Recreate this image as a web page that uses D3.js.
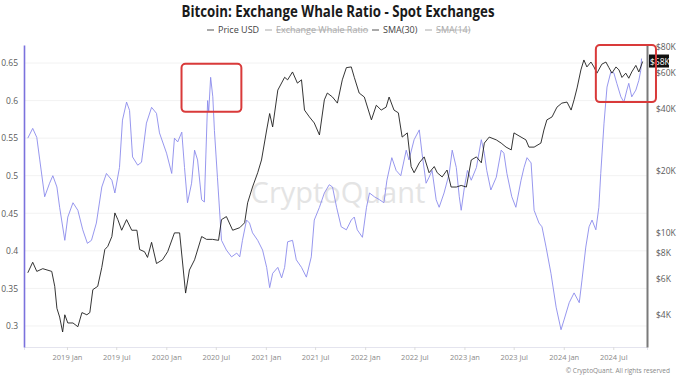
<!DOCTYPE html>
<html><head><meta charset="utf-8">
<script src="https://cdn.jsdelivr.net/npm/d3@7/dist/d3.min.js"></script>
<style>body{margin:0;background:#fff;} svg{display:block;font-family:"Open Sans","Noto Sans",sans-serif;}</style>
</head><body><svg id="c" width="680" height="382"></svg>
<script>
const title = "Bitcoin: Exchange Whale Ratio - Spot Exchanges";
const legendItems = ["Price USD", "Exchange Whale Ratio", "SMA(30)", "SMA(14)"];
const legendActive = [true, false, true, false];

const priceDates = ["2018-08-10","2018-08-28","2018-09-12","2018-10-04","2018-11-06","2018-11-17","2018-11-25","2018-12-05","2018-12-16","2018-12-24",
"2019-01-04","2019-01-23","2019-02-10","2019-02-25","2019-03-15","2019-03-26","2019-04-06","2019-04-24","2019-05-09","2019-05-20","2019-05-31","2019-06-15","2019-06-26","2019-07-07","2019-07-21","2019-08-08","2019-08-27","2019-09-15","2019-09-25","2019-10-13","2019-10-24","2019-11-08","2019-11-26","2019-12-18",
"2020-01-06","2020-01-31","2020-02-19","2020-03-12","2020-03-26","2020-04-14","2020-05-10","2020-05-28","2020-06-19","2020-07-11","2020-07-22","2020-08-09","2020-09-01","2020-09-27","2020-10-15","2020-10-26","2020-11-13","2020-12-02","2020-12-16",
"2021-01-04","2021-01-15","2021-01-26","2021-02-14","2021-03-11","2021-03-22","2021-04-09","2021-04-27","2021-05-12","2021-05-23","2021-06-10","2021-06-28","2021-07-17","2021-08-04","2021-08-15","2021-09-03","2021-09-21","2021-10-09","2021-10-24","2021-11-11","2021-11-22","2021-12-10","2021-12-29",
"2022-01-24","2022-02-11","2022-03-01","2022-03-19","2022-03-30","2022-04-17","2022-05-03","2022-05-17","2022-06-05","2022-06-19","2022-06-30","2022-07-19","2022-08-06","2022-08-24","2022-09-12","2022-09-23","2022-10-11","2022-10-29","2022-11-13","2022-12-02","2022-12-20",
"2023-01-08","2023-01-26","2023-02-14","2023-03-04","2023-03-15","2023-04-02","2023-04-28","2023-05-16","2023-06-03","2023-06-22","2023-07-02","2023-07-28","2023-08-15","2023-08-26","2023-09-14","2023-10-09","2023-10-20","2023-10-31","2023-11-19","2023-12-07","2023-12-25",
"2024-01-13","2024-01-28","2024-02-08","2024-02-19","2024-03-04","2024-03-15","2024-03-26","2024-04-10","2024-04-21","2024-05-02","2024-05-20","2024-06-04","2024-06-15","2024-06-26","2024-07-11","2024-07-22","2024-08-02","2024-08-16","2024-08-27","2024-09-07","2024-09-22","2024-10-03","2024-10-10","2024-10-17"];
const priceValues = [6400,7200,6500,6700,6500,5500,4300,3900,3300,4000,
3650,3650,3500,4100,4000,4100,5300,5500,6800,8300,8600,9600,12500,11600,10300,11600,10300,10300,8300,8100,7600,9000,7100,7400,
8100,10000,10000,5100,6600,7400,9600,9300,9300,9200,11600,12000,10300,10600,11200,14000,16700,19600,22600,
31600,38000,32700,49400,57000,55400,60500,53400,55400,39500,36600,34200,29900,44300,47800,45700,42700,55400,63500,64000,57000,47800,45700,
35400,41700,39500,40800,45700,39500,38300,29200,30600,21000,19600,21900,23400,19600,21000,19600,18700,20200,16700,16700,17000,
16700,22600,23400,21900,27300,29200,28300,27300,26100,25300,30600,29200,28300,26100,26100,27300,31600,35400,36600,40800,42700,
43200,39500,44300,50600,61900,69200,64000,67600,64000,59700,66000,67600,63500,59700,64000,61900,56900,59700,56400,60500,65100,60500,64000,68000];

const ratioDates = ["2018-08-10","2018-08-28","2018-09-12","2018-09-23","2018-10-11","2018-10-29","2018-11-10","2018-11-25","2018-12-05","2018-12-24",
"2019-01-04","2019-01-23","2019-02-10","2019-02-28","2019-03-17","2019-04-01","2019-04-19","2019-05-09","2019-05-26","2019-06-15","2019-06-26","2019-07-13","2019-07-24","2019-08-08","2019-08-19","2019-08-30","2019-09-18","2019-10-02","2019-10-20","2019-11-08","2019-11-26","2019-12-07",
"2020-01-02","2020-01-21","2020-01-31","2020-02-12","2020-02-27","2020-03-08","2020-03-19","2020-04-03","2020-04-14","2020-04-25","2020-05-10","2020-05-20","2020-06-01","2020-06-05","2020-06-12","2020-06-20","2020-06-26","2020-07-07","2020-07-22","2020-08-09","2020-08-28","2020-09-16","2020-09-27","2020-10-07","2020-10-22","2020-11-02","2020-11-13","2020-12-02","2020-12-20",
"2021-01-04","2021-01-15","2021-01-26","2021-02-14","2021-02-28","2021-03-11","2021-03-22","2021-04-09","2021-04-23","2021-05-12","2021-05-30","2021-06-17","2021-06-28","2021-07-17","2021-08-04","2021-08-22","2021-09-03","2021-09-18","2021-10-05","2021-10-24","2021-11-11","2021-11-22","2021-12-03","2021-12-22",
"2022-01-06","2022-01-17","2022-02-04","2022-02-23","2022-03-11","2022-03-22","2022-04-09","2022-04-25","2022-05-12","2022-06-01","2022-06-11","2022-06-30","2022-07-19","2022-07-29","2022-08-13","2022-08-24","2022-09-04","2022-09-19","2022-09-30","2022-10-18","2022-11-06","2022-11-17","2022-12-02","2022-12-13","2022-12-20",
"2023-01-01","2023-01-12","2023-01-26","2023-02-14","2023-03-04","2023-03-15","2023-03-24","2023-04-08","2023-04-28","2023-05-16","2023-05-26","2023-06-06","2023-06-24","2023-07-09","2023-07-28","2023-08-08","2023-08-19","2023-09-03","2023-09-14","2023-10-02","2023-10-13","2023-10-28","2023-11-15","2023-12-04","2023-12-22",
"2024-01-02","2024-01-21","2024-02-08","2024-02-27","2024-03-08","2024-03-22","2024-04-03","2024-04-14","2024-04-28","2024-05-09","2024-05-16","2024-05-28","2024-06-08","2024-06-22","2024-07-03","2024-07-14","2024-07-29","2024-08-09","2024-08-20","2024-08-27","2024-09-07","2024-09-22","2024-10-03","2024-10-10","2024-10-13"];
const ratioValues = [0.550,0.563,0.551,0.521,0.472,0.490,0.500,0.485,0.458,0.414,
0.445,0.464,0.454,0.428,0.410,0.414,0.437,0.485,0.503,0.494,0.477,0.511,0.574,0.598,0.587,0.525,0.514,0.518,0.570,0.591,0.583,0.557,
0.530,0.503,0.550,0.545,0.558,0.511,0.464,0.490,0.534,0.521,0.468,0.465,0.600,0.585,0.631,0.605,0.560,0.498,0.414,0.401,0.392,0.397,0.392,0.414,0.441,0.437,0.424,0.414,0.401,
0.378,0.351,0.370,0.378,0.364,0.378,0.412,0.414,0.388,0.378,0.365,0.392,0.441,0.458,0.477,0.488,0.485,0.458,0.432,0.428,0.441,0.445,0.428,0.418,
0.458,0.477,0.472,0.468,0.464,0.494,0.524,0.507,0.500,0.534,0.521,0.548,0.561,0.530,0.490,0.498,0.507,0.468,0.458,0.477,0.503,0.534,0.511,0.472,0.454,
0.485,0.507,0.494,0.511,0.548,0.530,0.507,0.481,0.498,0.534,0.530,0.503,0.472,0.458,0.494,0.511,0.524,0.517,0.454,0.437,0.432,0.405,0.370,0.325,0.295,
0.308,0.331,0.344,0.331,0.361,0.405,0.432,0.441,0.428,0.458,0.503,0.570,0.618,0.638,0.637,0.623,0.605,0.598,0.614,0.623,0.605,0.614,0.627,0.640,0.656];

const leftTicks = [0.3,0.35,0.4,0.45,0.5,0.55,0.6,0.65];
const rightTicks = [4000,6000,8000,10000,20000,40000,60000,80000];
const timeTicks = ["2019-01-01","2019-07-01","2020-01-01","2020-07-01","2021-01-01","2021-07-01","2022-01-01","2022-07-01","2023-01-01","2023-07-01","2024-01-01","2024-07-01"];
// highlight boxes: [startDate, endDate, topRatio, bottomRatio]
const highlightStart = ["2020-02-26","2024-04-28"];
const highlightEnd = ["2020-10-03","2024-12-05"];
const highlightTop = [0.649,0.674];
const highlightBottom = [0.585,0.598];

const parse = d3.timeParse("%Y-%m-%d");
const svg = d3.select("#c");
const L = 24, R = 647, T = 45, B = 347;

const x = d3.scaleTime().domain([parse("2018-07-27"), parse("2024-11-02")]).range([L, R]);
const yL = d3.scaleLinear().domain([0.272, 0.674]).range([B, T]);
const yR = d3.scaleLog().domain([2790, 81800]).range([B, T]);

// grid
svg.append("g").selectAll("line").data(leftTicks).join("line")
  .attr("x1", L).attr("x2", R).attr("y1", d => yL(d)).attr("y2", d => yL(d))
  .attr("stroke", "#f2f2f2").attr("stroke-width", 1);

// watermark
svg.append("text").attr("x", 338).attr("y", 203).attr("text-anchor", "middle")
  .attr("font-size", 29).attr("font-weight", 400).attr("fill", "#e4e4e4").text("CryptoQuant");

// bottom axis
const gx = svg.append("g").attr("transform", `translate(0,${B})`)
  .call(d3.axisBottom(x).tickValues(timeTicks.map(parse)).tickFormat(d3.timeFormat("%Y %b")).tickSize(3).tickPadding(5));
gx.select(".domain").attr("stroke", "#e4e4ee");
gx.selectAll(".tick line").attr("stroke", "#dcdcdc");
gx.selectAll("text").attr("font-size", 7.5).attr("fill", "#8a8a8a").attr("font-family", "'Open Sans','Noto Sans',sans-serif");

// lines
const ratioData = ratioDates.map((d, i) => ({d: parse(d), v: ratioValues[i]}));
const priceData = priceDates.map((d, i) => ({d: parse(d), v: priceValues[i]}));
svg.append("path").datum(ratioData)
  .attr("d", d3.line().x(p => x(p.d)).y(p => yL(p.v)))
  .attr("fill", "none").attr("stroke", "#8b8bec").attr("stroke-width", 0.9);
svg.append("path").datum(priceData)
  .attr("d", d3.line().x(p => x(p.d)).y(p => yR(p.v)))
  .attr("fill", "none").attr("stroke", "#1e1e1e").attr("stroke-width", 0.9);

// left axis
const gl = svg.append("g").attr("transform", `translate(${L},0)`)
  .call(d3.axisLeft(yL).tickValues(leftTicks).tickFormat(d => String(+d.toFixed(2))).tickSize(0).tickPadding(6));
gl.select(".domain").attr("stroke", "#7b72dd").attr("stroke-width", 1.6);
gl.selectAll("text").attr("font-size", 8.5).attr("fill", "#5a5a5a").attr("font-family", "'Open Sans','Noto Sans',sans-serif");

// right axis
const gr = svg.append("g").attr("transform", `translate(${R},0)`)
  .call(d3.axisRight(yR).tickValues(rightTicks).tickFormat(d => "$" + (d / 1000) + "K").tickSize(0).tickPadding(9));
gr.select(".domain").attr("stroke", "#7a7a7a").attr("stroke-width", 2);
gr.selectAll("text").attr("font-size", 8.5).attr("fill", "#5a5a5a").attr("font-family", "'Open Sans','Noto Sans',sans-serif");

// last price label
const last = priceValues[priceValues.length - 1];
const ly = yR(last);
svg.append("rect").attr("x", R + 2).attr("y", ly - 7).attr("width", 20).attr("height", 13).attr("fill", "#111");
svg.append("text").attr("x", R + 3).attr("y", ly + 3).attr("font-size", 8.5).attr("fill", "#fff")
  .text("$" + Math.round(last / 1000) + "K");

// highlight boxes
svg.append("g").selectAll("rect").data(highlightStart).join("rect")
  .attr("x", (d, i) => x(parse(d)))
  .attr("y", (d, i) => yL(highlightTop[i]))
  .attr("width", (d, i) => x(parse(highlightEnd[i])) - x(parse(d)))
  .attr("height", (d, i) => yL(highlightBottom[i]) - yL(highlightTop[i]))
  .attr("rx", 4).attr("fill", "none").attr("stroke", "#d93a3a").attr("stroke-width", 2);

// title
svg.append("text").attr("x", 338).attr("y", 17).attr("text-anchor", "middle")
  .attr("font-size", 15.5).attr("font-weight", 700).attr("fill", "#1a1a1a")
  .attr("textLength", 313).attr("lengthAdjust", "spacingAndGlyphs").text(title);

// legend
const legendX = [207, 265, 372, 425];
const lg = svg.append("g");
legendItems.forEach((name, i) => {
  const col = legendActive[i] ? "#444" : "#aaa";
  const g = lg.append("g").attr("transform", `translate(${legendX[i]},30)`);
  g.append("line").attr("x1", 0).attr("x2", 7).attr("y1", 0).attr("y2", 0).attr("stroke", legendActive[i] ? "#555" : "#aaa").attr("stroke-width", 1);
  const t = g.append("text").attr("x", 11).attr("y", 3.2).attr("font-size", 9).attr("fill", col).text(name);
  if (!legendActive[i]) {
    const w = t.node().getComputedTextLength();
    g.append("line").attr("x1", 11).attr("x2", 11 + w).attr("y1", 0).attr("y2", 0).attr("stroke", "#aaa").attr("stroke-width", 0.8);
  }
});

// footer
svg.append("text").attr("x", 670).attr("y", 373).attr("text-anchor", "end")
  .attr("font-size", 6.5).attr("fill", "#888").text("© CryptoQuant. All rights reserved");
</script></body></html>
